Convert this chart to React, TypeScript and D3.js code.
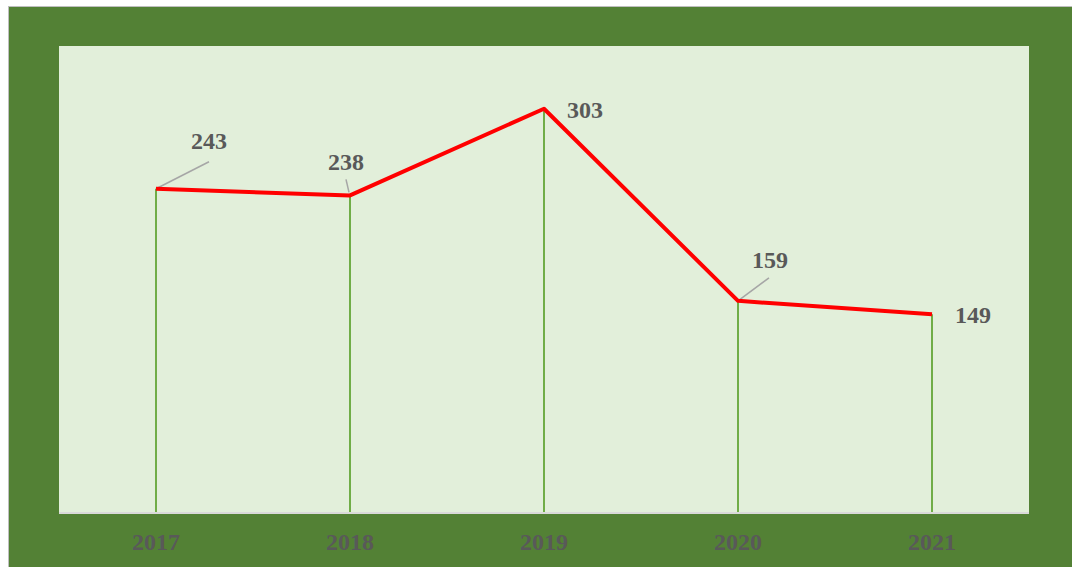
import React, { useRef, useEffect } from 'react';
import * as d3 from 'd3';

// chart data
const years = ['2017', '2018', '2019', '2020', '2021'];
const counts = [243, 238, 303, 159, 149];
const yMax = 350;

// label placement relative to each point (dx, dy of text baseline centre)
const labelOffsets: [number, number][] = [
  [53, -40],
  [-4, -25],
  [41, 9],
  [32, -33],
  [41, 9],
];
// leader lines: [from dx, dy, to dx, dy] relative to point, or null
const leaders: ([number, number, number, number] | null)[] = [
  [0, 0, 53, -27],
  [-1, -3, -4, -16],
  null,
  [0, 0, 31, -23],
  null,
];

const W = 1072;
const H = 567;
const plot = { left: 59, top: 46, right: 1029, bottom: 513 };

const App = () => {
  const svgRef = useRef<SVGSVGElement>(null);

  useEffect(() => {
    if (!svgRef.current) return;
    const svg = d3.select(svgRef.current);
    svg.selectAll('*').remove();

    // outer frame
    svg.append('rect')
      .attr('x', 8.5).attr('y', 6.5)
      .attr('width', W - 8).attr('height', H - 6)
      .attr('fill', '#538135')
      .attr('stroke', '#BFBFBF')
      .attr('stroke-width', 1);

    // plot area
    svg.append('rect')
      .attr('x', plot.left).attr('y', plot.top)
      .attr('width', plot.right - plot.left)
      .attr('height', plot.bottom - plot.top)
      .attr('fill', '#E2EFDA');

    const x = d3.scaleBand()
      .domain(years)
      .range([plot.left, plot.right]);
    const y = d3.scaleLinear()
      .domain([0, yMax])
      .range([plot.bottom, plot.top]);

    const cx = (d: string) => (x(d) as number) + x.bandwidth() / 2;

    // drop lines
    years.forEach((yr, i) => {
      svg.append('line')
        .attr('x1', cx(yr)).attr('x2', cx(yr))
        .attr('y1', y(counts[i])).attr('y2', plot.bottom)
        .attr('stroke', '#70AD47')
        .attr('stroke-width', 2);
    });

    // category axis line
    svg.append('line')
      .attr('x1', plot.left).attr('x2', plot.right)
      .attr('y1', plot.bottom).attr('y2', plot.bottom)
      .attr('stroke', '#D9D9D9')
      .attr('stroke-width', 2);

    // axis labels
    svg.append('g')
      .selectAll('text')
      .data(years)
      .enter()
      .append('text')
      .attr('x', d => cx(d))
      .attr('y', 550)
      .attr('text-anchor', 'middle')
      .attr('fill', '#595959')
      .attr('font-family', '"Liberation Serif", "Times New Roman", serif')
      .attr('font-weight', 'bold')
      .attr('font-size', '24px')
      .text(d => d);

    // leader lines
    years.forEach((yr, i) => {
      const le = leaders[i];
      if (!le) return;
      const px = cx(yr);
      const py = y(counts[i]);
      svg.append('line')
        .attr('x1', px + le[0]).attr('y1', py + le[1])
        .attr('x2', px + le[2]).attr('y2', py + le[3])
        .attr('stroke', '#A6A6A6')
        .attr('stroke-width', 1.5);
    });

    // the red line
    const line = d3.line<number>()
      .x((_, i) => cx(years[i]))
      .y(d => y(d));
    svg.append('path')
      .datum(counts)
      .attr('d', line)
      .attr('fill', 'none')
      .attr('stroke', '#FF0000')
      .attr('stroke-width', 4)
      .attr('stroke-linejoin', 'round');

    // data labels
    svg.append('g')
      .selectAll('text')
      .data(counts)
      .enter()
      .append('text')
      .attr('x', (d, i) => cx(years[i]) + labelOffsets[i][0])
      .attr('y', (d, i) => y(d) + labelOffsets[i][1])
      .attr('text-anchor', 'middle')
      .attr('fill', '#595959')
      .attr('font-family', '"Liberation Serif", "Times New Roman", serif')
      .attr('font-weight', 'bold')
      .attr('font-size', '24px')
      .text(d => d);
  }, []);

  return (
    <div style={{ position: 'absolute', left: 0, top: 0, width: W, height: H, background: '#fff' }}>
      <svg ref={svgRef} width={W} height={H} style={{ display: 'block' }}></svg>
    </div>
  );
};

export default App;
